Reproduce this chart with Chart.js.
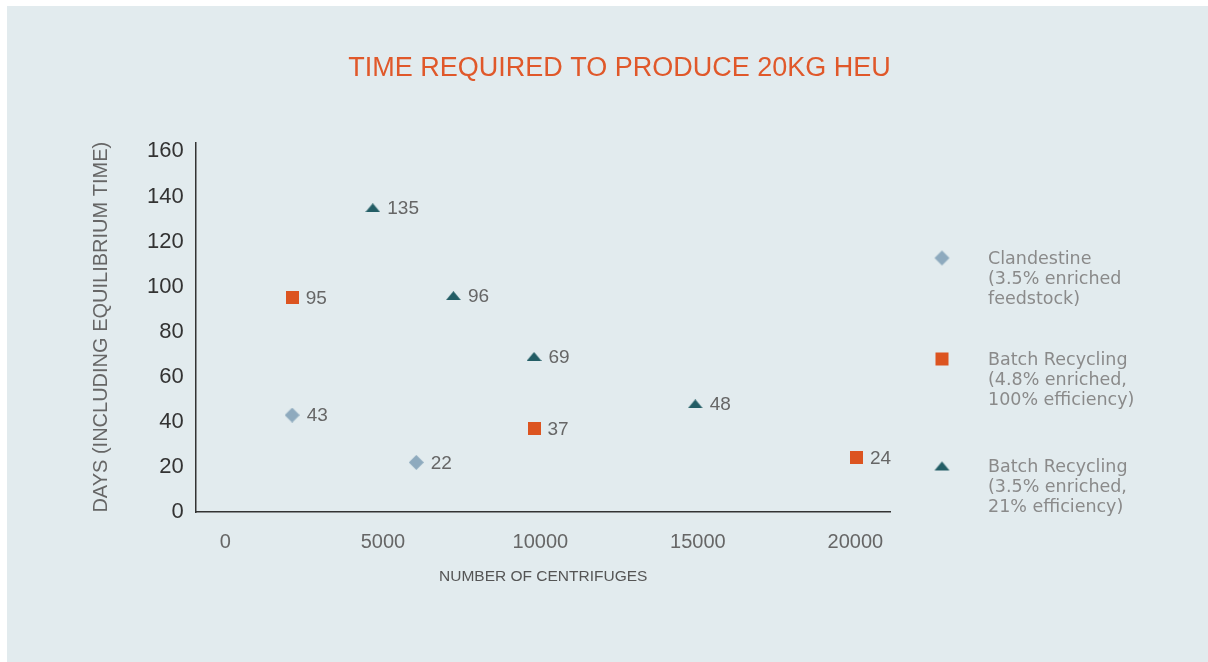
<!DOCTYPE html>
<html lang="en">
<head>
  <meta charset="UTF-8" />
  <title>Time required to produce 20kg HEU</title>
  <script src="https://cdn.jsdelivr.net/npm/chart.js"></script>
  <style>
    html, body {
      margin: 0;
      padding: 0;
      background: #fff;
    }

    #panel {
      position: absolute;
      left: 7px;
      top: 6px;
      width: 1201px;
      height: 656px;
      background: #e2ebee;
    }

    #legend {
      position: absolute;
      left: 0;
      top: 0;
      font-family: "DejaVu Sans", sans-serif;
      font-size: 17.5px;
      line-height: 20px;
      color: #8a8a8a;
    }

    .legend-item {
      position: absolute;
      left: 920px;
      width: 260px;
    }

    .legend-item img {
      position: absolute;
      left: 0;
      top: 10px;
      transform: translate(-50%, -50%);
      margin-left: 15px;
    }

    .legend-item span {
      position: absolute;
      left: 61px;
      top: 0;
      white-space: nowrap;
    }
  </style>
</head>
<body>
  <div id="panel">
    <canvas id="heuChart"></canvas>
    <div id="legend"></div>
  </div>

  <script>
    // data
    const clandestineX = [2500, 6350];
    const clandestineY = [43, 22];

    const batch48X = [2500, 10000, 20000];
    const batch48Y = [95, 37, 24];

    const batch35X = [5000, 7500, 10000, 15000];
    const batch35Y = [135, 96, 69, 48];

    const xTicks = [0, 5000, 10000, 15000, 20000];
    const yTicks = [0, 20, 40, 60, 80, 100, 120, 140, 160];

    const legendLabels = [
      ['Clandestine', '(3.5% enriched', 'feedstock)'],
      ['Batch Recycling', '(4.8% enriched,', '100% efficiency)'],
      ['Batch Recycling', '(3.5% enriched,', '21% efficiency)']
    ];

    // small canvases used as point markers
    function makeMarker(shape, color, w, h) {
      const c = document.createElement('canvas');
      c.width = w;
      c.height = h;
      const g = c.getContext('2d');
      g.fillStyle = color;
      g.beginPath();
      if (shape === 'diamond') {
        g.moveTo(w / 2, 0); g.lineTo(w, h / 2); g.lineTo(w / 2, h); g.lineTo(0, h / 2);
      } else if (shape === 'triangle') {
        g.moveTo(w / 2, 0); g.lineTo(w, h); g.lineTo(0, h);
      } else {
        g.rect(0, 0, w, h);
      }
      g.closePath();
      g.fill();
      return c;
    }

    const diamond = makeMarker('diamond', '#8eaabe', 15, 15);
    const square = makeMarker('square', '#dc5420', 13, 13);
    const triangle = makeMarker('triangle', '#235d65', 15, 9);

    const toPoints = (xs, ys) => xs.map((x, i) => ({ x: x, y: ys[i] }));

    const pointLabels = {
      id: 'pointLabels',
      afterDatasetsDraw(chart) {
        const ctx = chart.ctx;
        ctx.save();
        ctx.font = '19px "Liberation Sans", Arial, sans-serif';
        ctx.fillStyle = '#666';
        ctx.textBaseline = 'middle';
        ctx.textAlign = 'left';
        chart.data.datasets.forEach((ds, i) => {
          const gap = ds.pointStyle.width / 2 + 7;
          chart.getDatasetMeta(i).data.forEach((pt, j) => {
            ctx.fillText(String(ds.data[j].y), pt.x + gap, pt.y + 1);
          });
        });
        ctx.restore();
      }
    };

    Chart.defaults.font.family = '"Liberation Sans", Arial, sans-serif';

    const ctx = document.getElementById('heuChart').getContext('2d');
    new Chart(ctx, {
      type: 'scatter',
      data: {
        datasets: [
          { label: legendLabels[0].join(' '), data: toPoints(clandestineX, clandestineY), pointStyle: diamond, pointRadius: 8 },
          { label: legendLabels[1].join(' '), data: toPoints(batch48X, batch48Y), pointStyle: square, pointRadius: 8 },
          { label: legendLabels[2].join(' '), data: toPoints(batch35X, batch35Y), pointStyle: triangle, pointRadius: 8 }
        ]
      },
      options: {
        responsive: true,
        maintainAspectRatio: false,
        animation: false,
        layout: { padding: { left: 24, right: 0, top: 0, bottom: 60 } },
        plugins: {
          legend: { display: false },
          tooltip: { enabled: false },
          title: {
            display: true,
            text: 'TIME REQUIRED TO PRODUCE 20KG HEU',
            color: '#e0582a',
            font: { size: 27, weight: 'normal' },
            padding: { top: 46, bottom: 58 }
          }
        },
        scales: {
          x: {
            type: 'linear',
            position: 'bottom',
            weight: 0,
            min: -490,
            max: 21060,
            grid: { display: false, drawTicks: false },
            border: { color: '#333', width: 1.5 },
            ticks: { display: false },
            afterFit: s => { s.height = 0; }
          },
          xl: {
            type: 'linear',
            position: 'bottom',
            weight: 1,
            min: -943,
            max: 21121,
            grid: { display: false, drawTicks: false },
            border: { display: false },
            afterBuildTicks: s => { s.ticks = xTicks.map(v => ({ value: v })); },
            ticks: {
              padding: 18,
              color: '#666',
              font: { size: 20 },
              callback: v => String(v)
            },
            title: {
              display: true,
              text: 'NUMBER OF CENTRIFUGES',
              color: '#555',
              font: { size: 15.5 },
              padding: { top: 0, bottom: 16 }
            },
            afterFit: s => { s.height = 90; }
          },
          y: {
            type: 'linear',
            position: 'left',
            min: 0,
            max: 164,
            grid: { display: false, drawTicks: false },
            border: { color: '#333', width: 1.5 },
            afterBuildTicks: s => { s.ticks = yTicks.map(v => ({ value: v })); },
            ticks: {
              padding: 12,
              color: '#333',
              font: { size: 22 }
            },
            title: {
              display: true,
              text: 'DAYS (INCLUDING EQUILIBRIUM TIME)',
              color: '#666',
              font: { size: 20 },
              padding: { top: 58, bottom: 0 }
            },
            afterFit: s => { s.width = 164.7; }
          },
          yr: {
            type: 'linear',
            position: 'right',
            min: 0,
            max: 1,
            grid: { display: false, drawTicks: false },
            border: { display: false },
            ticks: { display: false },
            afterFit: s => { s.width = 317.3; }
          }
        }
      },
      plugins: [pointLabels]
    });

    // legend on the right
    const legendTops = [242, 343, 450];
    const legendMarkers = [diamond, square, triangle];
    const legend = document.getElementById('legend');
    legendLabels.forEach((lines, i) => {
      const item = document.createElement('div');
      item.className = 'legend-item';
      item.style.top = legendTops[i] + 'px';
      const img = document.createElement('img');
      img.src = legendMarkers[i].toDataURL();
      const text = document.createElement('span');
      text.innerHTML = lines.join('<br>');
      item.appendChild(img);
      item.appendChild(text);
      legend.appendChild(item);
    });
  </script>
</body>
</html>
